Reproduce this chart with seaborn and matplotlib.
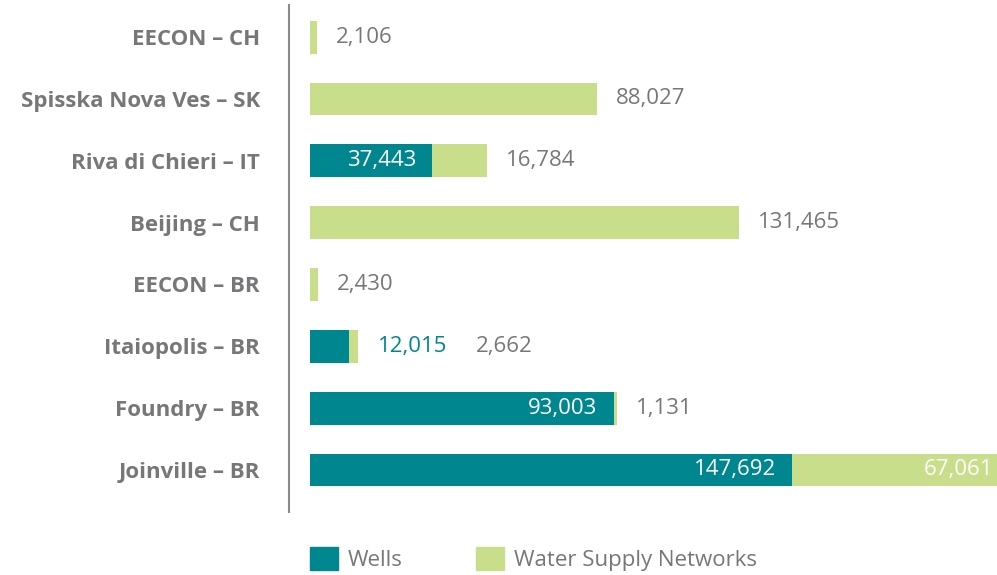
import matplotlib
matplotlib.use("Agg")
import matplotlib.pyplot as plt
import seaborn as sns
import pandas as pd
from matplotlib.patches import Patch

# data
sites = ["EECON – CH", "Spisska Nova Ves – SK", "Riva di Chieri – IT", "Beijing – CH",
         "EECON – BR", "Itaiopolis – BR", "Foundry – BR", "Joinville – BR"]
wells = [0, 0, 37443, 0, 0, 12015, 93003, 147692]
water = [2106, 88027, 16784, 131465, 2430, 2662, 1131, 67061]

TEAL = "#00868f"
GREEN = "#c8de8a"
GREY = "#77777a"

df = pd.DataFrame({"Site": sites, "Wells": wells, "Water": water})
df["Total"] = df["Wells"] + df["Water"]

sns.set_style("white")
plt.rcParams["font.family"] = ["Open Sans", "DejaVu Sans"]

fig = plt.figure(figsize=(9.97, 5.75), dpi=100)
ax = fig.add_axes([289 / 997, 63 / 575, 708 / 997, 507 / 575])

# green = total, teal drawn over it
sns.barplot(data=df, y="Site", x="Total", color=GREEN, orient="h", width=0.53,
            saturation=1, linewidth=0, ax=ax)
sns.barplot(data=df, y="Site", x="Wells", color=TEAL, orient="h", width=0.53,
            saturation=1, linewidth=0, ax=ax)

ax.set_xlim(-6434, 210487)
ax.set_ylim(7.68, -0.52)
ax.set_xlabel("")
ax.set_ylabel("")
ax.set_xticks([])
for s in ["top", "right", "bottom"]:
    ax.spines[s].set_visible(False)
ax.spines["left"].set_color("#8a8a8c")
ax.spines["left"].set_linewidth(1.5)
ax.tick_params(axis="y", length=0, pad=21)
for lab in ax.get_yticklabels():
    lab.set_fontweight("bold")
    lab.set_color(GREY)
    lab.set_fontsize(16)

fs = 16
xmax = ax.get_xlim()[1]
for i, row in df.iterrows():
    w, g, t = row["Wells"], row["Water"], row["Total"]
    extra = 0
    if w > 0:
        if w > 30000:
            ax.annotate(f"{w:,}", (w, i), xytext=(-16, 0), textcoords="offset pixels",
                        ha="right", va="center", color="white", fontsize=fs)
        else:
            ax.annotate(f"{w:,}", (t, i), xytext=(20, 0), textcoords="offset pixels",
                        ha="left", va="center", color=TEAL, fontsize=fs)
            extra = 99
    if t > xmax:
        ax.annotate(f"{g:,}", (xmax, i), xytext=(-4, 0), textcoords="offset pixels",
                    ha="right", va="center", color="white", fontsize=fs)
    else:
        ax.annotate(f"{g:,}", (t, i), xytext=(19 + extra, 0), textcoords="offset pixels",
                    ha="left", va="center", color=GREY, fontsize=fs)

handles = [Patch(color=TEAL, label="Wells"), Patch(color=GREEN, label="Water Supply Networks")]
fig.legend(handles=handles, loc="lower left", bbox_to_anchor=(290 / 997, -0.028), ncol=2,
           frameon=False, fontsize=fs, labelcolor=GREY, handlelength=1.25, handleheight=1.25,
           handletextpad=0.45, columnspacing=3.3)

fig.savefig("out.png", dpi=100)
